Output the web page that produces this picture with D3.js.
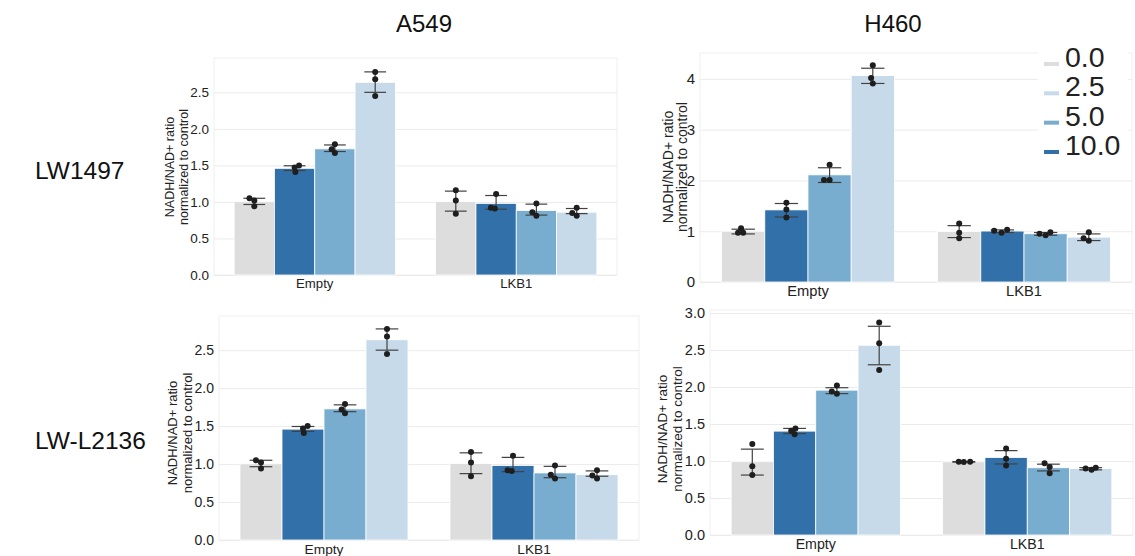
<!DOCTYPE html>
<html>
<head>
<meta charset="utf-8">
<script src="https://cdn.jsdelivr.net/npm/d3@7"></script>
<style>
  html, body { margin: 0; padding: 0; background: #ffffff; }
  svg { display: block; font-family: "Liberation Sans", Arial, sans-serif; }
</style>
</head>
<body>
<svg id="chart" width="1135" height="556"></svg>
<script>
// ---------------- DATA ----------------
const categories = ["Empty", "LKB1"];
// bar order inside each group, as drawn (left to right)
const barDoses = ["0.0", "10.0", "5.0", "2.5"];
const legendDoses = ["0.0", "2.5", "5.0", "10.0"];
const columnTitles = ["A549", "H460"];
const rowTitles = ["LW1497", "LW-L2136"];
const yLabelLines = ["NADH/NAD+ ratio", "normalized to control"];

// replicate points: [category][dose in barDoses order][replicate]
const pointsA549LW1497 = [
  [[1.05, 1.02, 0.94], [1.50, 1.47, 1.41], [1.79, 1.72, 1.67], [2.78, 2.68, 2.45]],
  [[1.16, 1.02, 0.84], [1.11, 0.92, 0.91], [0.98, 0.86, 0.81], [0.92, 0.85, 0.81]]
];
const ciA549LW1497 = [
  [[0.965, 1.05], [1.43, 1.495], [1.69, 1.78], [2.50, 2.78]],
  [[0.874, 1.148], [0.90, 1.088], [0.82, 0.97], [0.84, 0.91]]
];
const pointsH460LW1497 = [
  [[1.06, 0.97, 0.97], [1.56, 1.43, 1.27], [2.31, 2.01, 2.01], [4.27, 4.02, 3.91]],
  [[1.15, 0.97, 0.86], [1.01, 0.97, 1.03], [0.95, 0.92, 0.98], [0.98, 0.86, 0.81]]
];
const ciH460LW1497 = [
  [[0.947, 1.04], [1.28, 1.546], [1.96, 2.25], [3.91, 4.21]],
  [[0.875, 1.11], [0.975, 1.026], [0.92, 0.975], [0.816, 0.947]]
];
const pointsA549LWL2136 = [
  [[1.05, 1.02, 0.94], [1.50, 1.47, 1.41], [1.79, 1.72, 1.67], [2.78, 2.68, 2.45]],
  [[1.16, 1.02, 0.84], [1.11, 0.92, 0.91], [0.98, 0.86, 0.81], [0.92, 0.85, 0.81]]
];
const ciA549LWL2136 = [
  [[0.965, 1.05], [1.43, 1.495], [1.69, 1.78], [2.50, 2.78]],
  [[0.874, 1.148], [0.90, 1.088], [0.82, 0.97], [0.84, 0.91]]
];
const pointsH460LWL2136 = [
  [[1.23, 0.93, 0.81], [1.44, 1.41, 1.36], [2.02, 1.94, 1.91], [2.87, 2.59, 2.23]],
  [[0.99, 0.985, 0.99], [1.17, 1.03, 0.94], [0.97, 0.92, 0.835], [0.90, 0.88, 0.91]]
];
const ciH460LWL2136 = [
  [[0.81, 1.16], [1.37, 1.44], [1.91, 1.99], [2.30, 2.82]],
  [[0.985, 0.992], [0.96, 1.14], [0.866, 0.957], [0.88, 0.91]]
];
// horizontal strip jitter of each replicate (fraction of bar width), as seen
const jitterA549 = [
  [[-0.12, 0, 0], [0.11, 0, 0.02], [0, -0.08, 0], [0, 0, 0]],
  [[0, 0, 0], [0, -0.13, -0.03], [0, -0.1, 0], [0, -0.11, 0]]
];
const jitterH460LW1497 = [
  [[-0.05, -0.12, 0], [0, 0, 0], [0, -0.13, 0], [0, -0.04, 0]],
  [[0, 0, 0], [-0.19, -0.02, 0.11], [-0.14, 0, 0.11], [0, -0.12, 0]]
];
const jitterH460LWL2136 = [
  [[0, 0, 0], [0.02, -0.08, 0], [0, -0.12, 0], [0, 0, 0]],
  [[-0.12, 0, 0.15], [0, 0, 0], [-0.09, 0.03, 0.03], [-0.12, 0.02, 0.12]]
];
// axis limits and tick labels
const yMaxes = [2.97, 4.51, 2.95, 3.04];
const ticksDecimal = [0.0, 0.5, 1.0, 1.5, 2.0, 2.5];
const ticksInteger = [0, 1, 2, 3, 4];
const ticksDecimal3 = [0.0, 0.5, 1.0, 1.5, 2.0, 2.5, 3.0];

// ---------------- STYLE / LAYOUT ----------------
const colors = { "0.0": "#dddddd", "2.5": "#c6daea", "5.0": "#78adcf", "10.0": "#3270a9" };
const panels = [
  { pts: pointsA549LW1497, ci: ciA549LW1497, jit: jitterA549, yMax: yMaxes[0], ticks: ticksDecimal, fmt: ".1f",
    left: 214, right: 617, top: 58, bottom: 275, fs: 13.5, labX: [170, 184], labY: 167 },
  { pts: pointsH460LW1497, ci: ciH460LW1497, jit: jitterH460LW1497, yMax: yMaxes[1], ticks: ticksInteger, fmt: "d",
    left: 700, right: 1132, top: 53, bottom: 282, fs: 15, labX: [668, 682], labY: 167 },
  { pts: pointsA549LWL2136, ci: ciA549LWL2136, jit: jitterA549, yMax: yMaxes[2], ticks: ticksDecimal, fmt: ".1f",
    left: 219, right: 639, top: 316, bottom: 540, fs: 14, labX: [172, 187], labY: 433 },
  { pts: pointsH460LWL2136, ci: ciH460LWL2136, jit: jitterH460LWL2136, yMax: yMaxes[3], ticks: ticksDecimal3, fmt: ".1f",
    left: 710, right: 1133, top: 310, bottom: 535, fs: 14.5, labX: [662, 677], labY: 429 }
];

const svg = d3.select("#chart");

panels.forEach(p => {
  const g = svg.append("g");
  const x = d3.scaleBand().domain(categories).range([p.left, p.right]).paddingInner(0.2).paddingOuter(0.1);
  const xs = d3.scaleBand().domain(barDoses).range([0, x.bandwidth()]).padding(0);
  const y = d3.scaleLinear().domain([0, p.yMax]).range([p.bottom, p.top]);

  // frame
  g.append("rect").attr("x", p.left).attr("y", p.top)
    .attr("width", p.right - p.left).attr("height", p.bottom - p.top)
    .attr("fill", "none").attr("stroke", "#efefef").attr("stroke-width", 1);

  // grid
  const yAxis = d3.axisLeft(y).tickValues(p.ticks).tickFormat(d3.format(p.fmt))
    .tickSize(-(p.right - p.left)).tickPadding(5);
  const ya = g.append("g").attr("transform", `translate(${p.left},0)`).call(yAxis);
  ya.select(".domain").remove();
  ya.selectAll(".tick line").attr("stroke", "#ebebeb").attr("stroke-width", 1);
  ya.selectAll(".tick text").attr("fill", "#222").style("font-size", p.fs + "px")
    .style("font-family", "'Liberation Sans', Arial, sans-serif");

  const xAxis = d3.axisBottom(x).tickSize(0).tickPadding(4);
  const xa = g.append("g").attr("transform", `translate(0,${p.bottom})`).call(xAxis);
  xa.select(".domain").remove();
  xa.selectAll(".tick text").attr("fill", "#222").style("font-size", (p.fs - 0.3) + "px")
    .style("font-family", "'Liberation Sans', Arial, sans-serif");

  // y label
  const lab = g.append("text")
    .attr("transform", `translate(0,${p.labY}) rotate(-90)`)
    .attr("text-anchor", "middle").attr("fill", "#222")
    .style("font-size", (p.fs - 1) + "px");
  yLabelLines.forEach((t, i) => {
    lab.append("tspan").attr("x", 0).attr("y", p.labX[i]).attr("dy", "0.35em").text(t);
  });

  categories.forEach((cat, ci) => {
    barDoses.forEach((dose, di) => {
      const vals = p.pts[ci][di];
      const m = d3.mean(vals);
      const bx = x(cat) + xs(dose);
      const bw = xs.bandwidth();
      const cx = bx + bw / 2;
      g.append("rect").attr("x", bx).attr("y", y(m)).attr("width", bw).attr("height", y(0) - y(m))
        .attr("fill", colors[dose]).attr("stroke", "#ffffff").attr("stroke-width", 0.8);
      const [lo, hi] = p.ci[ci][di];
      const cap = bw * 0.27;
      g.append("line").attr("x1", cx).attr("x2", cx).attr("y1", y(lo)).attr("y2", y(hi))
        .attr("stroke", "#424242").attr("stroke-width", 1.2);
      [lo, hi].forEach(v => {
        g.append("line").attr("x1", cx - cap).attr("x2", cx + cap).attr("y1", y(v)).attr("y2", y(v))
          .attr("stroke", "#424242").attr("stroke-width", 1.2);
      });
      vals.forEach((v, k) => {
        g.append("circle").attr("cx", cx + p.jit[ci][di][k] * bw).attr("cy", y(v)).attr("r", 3)
          .attr("fill", "#1e1e1e");
      });
    });
  });
});

// column and row titles
const colCenters = [424, 893];
columnTitles.forEach((t, i) => {
  svg.append("text").attr("x", colCenters[i]).attr("y", 32).attr("text-anchor", "middle")
    .attr("fill", "#111").style("font-size", "24px").text(t);
});
const rowY = [179, 449];
rowTitles.forEach((t, i) => {
  svg.append("text").attr("x", 35).attr("y", rowY[i]).attr("text-anchor", "start")
    .attr("fill", "#111").style("font-size", "24.5px").text(t);
});

// legend
const lg = svg.append("g");
lg.append("rect").attr("x", 1038).attr("y", 42).attr("width", 90).attr("height", 122).attr("fill", "#ffffff");
const ly = d3.scalePoint().domain(legendDoses).range([67, 155]);
legendDoses.forEach(d => {
  lg.append("rect").attr("x", 1044).attr("y", ly(d) - 5).attr("width", 15).attr("height", 4)
    .attr("fill", colors[d]);
  lg.append("text").attr("x", 1065).attr("y", ly(d)).attr("fill", "#222")
    .style("font-size", "28.5px").text(d);
});
</script>
</body>
</html>
